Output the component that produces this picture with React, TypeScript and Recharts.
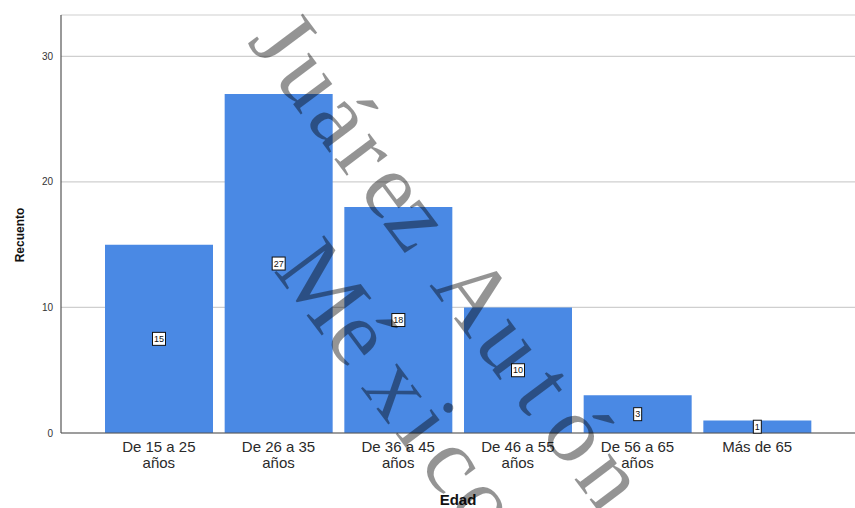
import { BarChart, Bar, XAxis, YAxis, CartesianGrid, LabelList } from "recharts";

const categories = [
  "De 15 a 25 años",
  "De 26 a 35 años",
  "De 36 a 45 años",
  "De 46 a 55 años",
  "De 56 a 65 años",
  "Más de 65",
];
const counts = [15, 27, 18, 10, 3, 1];
const yTicks = [0, 10, 20, 30];

const data = categories.map((edad, i) => ({ edad, recuento: counts[i] }));

const W = 855;
const H = 508;
const BAR = "#4a89e4";
const SANS = "'Liberation Sans', Arial, sans-serif";

// age ranges break before "años", like the original labels
function AgeTick(props: any) {
  const { x, y, payload } = props;
  const m = /^(.*)\s(años)$/.exec(payload.value);
  const lines = m ? [m[1], m[2]] : [payload.value];
  return (
    <text x={x} y={y} textAnchor="middle" fontSize={15} fill="#2a2a2a" fontFamily={SANS}>
      {lines.map((t, i) => (
        <tspan key={i} x={x} dy={i === 0 ? 11 : 16}>
          {t}
        </tspan>
      ))}
    </text>
  );
}

// boxed count in the middle of each bar
function CountBox(props: any) {
  const { x, y, width, height, value } = props;
  const cx = x + width / 2;
  const cy = y + height / 2;
  const w = String(value).length * 5 + 3;
  const h = 13;
  return (
    <g>
      <rect x={cx - w / 2} y={cy - h / 2} width={w} height={h} fill="#fff" stroke="#111" strokeWidth={1} />
      <text x={cx} y={cy + 3} textAnchor="middle" fontSize={9} fill="#111" fontFamily={SANS}>
        {value}
      </text>
    </g>
  );
}

function YTitle(props: any) {
  const { viewBox } = props;
  const cx = 20;
  const cy = viewBox.y + viewBox.height / 2 + 11;
  return (
    <text
      x={cx}
      y={cy}
      transform={`rotate(-90 ${cx} ${cy})`}
      textAnchor="middle"
      dominantBaseline="central"
      fontSize={12}
      fontWeight="bold"
      fill="#111"
      fontFamily={SANS}
    >
      Recuento
    </text>
  );
}

// diagonal serif watermark: glyphs set one by one along a slanted baseline
const WM_ANGLE = 53.13;
const WM_DIR = [0.6, 0.8];
const WM_UP = [0.8, -0.6];
const WM_SIZE = 95;

type WmLine = { text: string; along: number[]; base: number };

const wmLines: WmLine[] = [
  {
    text: "Juárez Autón",
    along: [200, 250, 300, 342, 388, 428, -1, 520, 582, 638, 693, 750],
    base: 172,
  },
  {
    text: "México",
    along: [422, 485, 550, 596, 643, 695],
    base: 56,
  },
];

function Watermark() {
  return (
    <svg
      width={W}
      height={H}
      style={{ position: "absolute", left: 0, top: 0, pointerEvents: "none" }}
    >
      <g
        fontFamily="'Liberation Serif', 'Times New Roman', serif"
        fontSize={WM_SIZE}
        fill="#000"
        fillOpacity={0.42}
        textAnchor="middle"
      >
        {wmLines.map((line, li) =>
          Array.from(line.text).map((ch, i) => {
            const a = line.along[i];
            if (ch === " " || a < 0) return null;
            const x = a * WM_DIR[0] + line.base * WM_UP[0];
            const y = a * WM_DIR[1] + line.base * WM_UP[1];
            return (
              <text key={`${li}-${i}`} x={x} y={y} transform={`rotate(${WM_ANGLE} ${x} ${y})`}>
                {ch}
              </text>
            );
          })
        )}
      </g>
    </svg>
  );
}

export default function App() {
  return (
    <div style={{ position: "absolute", left: 0, top: 0, width: W, height: H, background: "#fff" }}>
      <BarChart
        width={W}
        height={H}
        data={data}
        margin={{ top: 15, right: 0, bottom: 3, left: 0 }}
        barCategoryGap={6}
      >
        <CartesianGrid vertical={false} stroke="#cfcfcf" strokeWidth={1.2} />
        <XAxis
          dataKey="edad"
          height={72}
          padding={{ left: 38, right: 38 }}
          axisLine={{ stroke: "#555", strokeWidth: 1.2 }}
          tickLine={false}
          tick={<AgeTick />}
          interval={0}
          label={{
            value: "Edad",
            position: "insideBottom",
            offset: 0,
            fontSize: 15,
            fontWeight: "bold",
            fill: "#111",
            fontFamily: SANS,
          }}
        />
        <YAxis
          width={61}
          domain={[0, 33.3]}
          ticks={yTicks}
          allowDataOverflow
          axisLine={{ stroke: "#555", strokeWidth: 1.2 }}
          tickLine={false}
          tick={{ fontSize: 10, fill: "#333", fontFamily: SANS }}
          label={<YTitle />}
        />
        <Bar dataKey="recuento" fill={BAR} isAnimationActive={false}>
          <LabelList dataKey="recuento" content={<CountBox />} />
        </Bar>
      </BarChart>
      <Watermark />
    </div>
  );
}
